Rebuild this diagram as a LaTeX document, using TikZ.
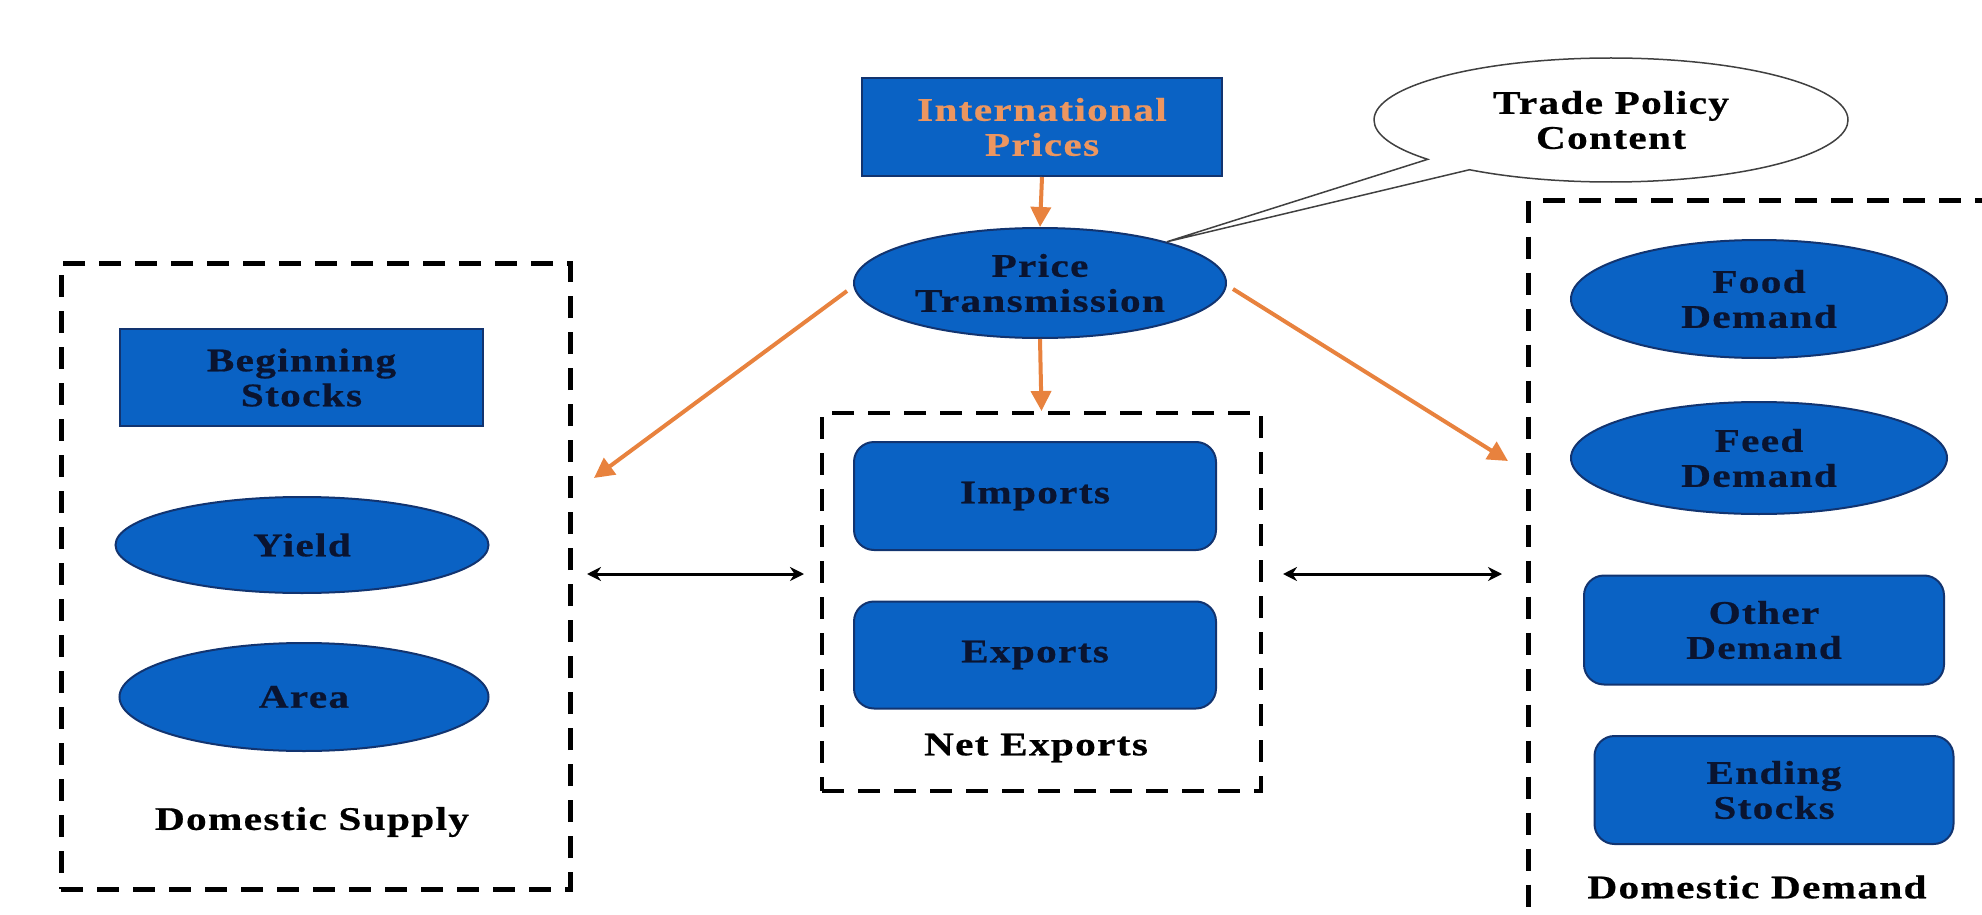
\documentclass[tikz,border=0pt]{standalone}
\usepackage{fontspec}
\setmainfont{Liberation Serif}[LetterSpace=4,FakeStretch=1.25,FakeBold=0.6]
\usetikzlibrary{shapes.geometric,shapes.callouts,arrows.meta,calc}
\definecolor{bluec}{RGB}{10,98,196}
\definecolor{edgec}{RGB}{18,52,112}
\definecolor{txtc}{RGB}{10,20,48}
\definecolor{orangec}{RGB}{232,130,62}
\definecolor{otxt}{RGB}{236,150,96}
\newcommand{\mylbl}{\fontsize{33}{35}\selectfont\bfseries}
\tikzset{
  txt/.style={font=\mylbl, text=txtc, align=center},
  bluebox/.style={rectangle, draw=edgec, line width=2pt, fill=bluec, inner sep=0pt, txt},
  blueell/.style={ellipse, draw=edgec, line width=2pt, fill=bluec, inner sep=0pt, txt},
  blueround/.style={bluebox, rounded corners=20pt},
  dbox/.style={rectangle, draw=black, line width=5pt, dash pattern=on 22pt off 14pt, inner sep=0pt},
  oarrow/.style={draw=orangec, line width=4pt, -{Triangle[length=20pt,width=20pt]}},
  barrow/.style={draw=black, line width=3pt, {Stealth[length=14pt,width=14pt]}-{Stealth[length=14pt,width=14pt]}},
}
\begin{document}
\begin{tikzpicture}[x=1pt,y=-1pt]
\clip (0,0) rectangle (1982,915);
% international prices
\node[bluebox, minimum width=360pt, minimum height=98pt, text=otxt] (ip) at (1042,127) {International\\Prices};
\node[blueell, minimum width=372pt, minimum height=110pt] (pt) at (1040,283) {Price\\Transmission};
\node[ellipse callout, draw=black!75, line width=1.5pt, fill=white, minimum width=474pt, minimum height=124pt,
      inner sep=0pt, callout absolute pointer={(pt.18)}, callout pointer arc=14, txt, text=black] (tpc) at (1611,120) {Trade Policy\\Content};
% domestic supply
\node[dbox, minimum width=509pt, minimum height=626pt] (sup) at (315.5,576) {};
\node[bluebox, minimum width=363pt, minimum height=97pt] (bs) at (301.5,377.5) {Beginning\\Stocks};
\node[blueell, minimum width=373pt, minimum height=96pt] (yield) at (302,545) {Yield};
\node[blueell, minimum width=369pt, minimum height=108pt] (area) at (304,697) {Area};
\node[txt, text=black] (suplab) at (312,822) {Domestic Supply};
% net exports
\node[dbox, minimum width=439pt, minimum height=378pt, line width=4pt] (net) at (1041.5,602) {};
\node[blueround, minimum width=362pt, minimum height=108pt] (imp) at (1035,496) {Imports};
\node[blueround, minimum width=362pt, minimum height=107pt] (exp) at (1035,655) {Exports};
\node[txt, text=black] (netlab) at (1036,748) {Net Exports};
% domestic demand
\node[dbox, minimum width=520pt, minimum height=760pt, anchor=north west] (dem) at (1526,198) {};
\node[blueell, minimum width=376pt, minimum height=118pt] (food) at (1759,299) {Food\\Demand};
\node[blueell, minimum width=376pt, minimum height=112pt] (feed) at (1759,458) {Feed\\Demand};
\node[blueround, minimum width=360pt, minimum height=109pt] (other) at (1764,630) {Other\\Demand};
\node[blueround, minimum width=359pt, minimum height=108pt] (end) at (1774,790) {Ending\\Stocks};
\node[txt, text=black] (demlab) at (1757,887) {Domestic Demand};
% connectors
\coordinate (lt) at (594,478);
\coordinate (rt) at (1508,461);
\coordinate (la) at (587,574);
\coordinate (lb) at (804,574);
\coordinate (ra) at (1283,574);
\coordinate (rb) at (1502,574);
\draw[oarrow] (ip.south) -- (pt.north);
\draw[oarrow] (pt.south) -- (net.north);
\draw[oarrow] (pt.west) ++(-6,8) -- (lt);
\draw[oarrow] (pt.east) ++(6,6) -- (rt);
\draw[barrow] (la) -- (lb);
\draw[barrow] (ra) -- (rb);
\end{tikzpicture}
\end{document}
